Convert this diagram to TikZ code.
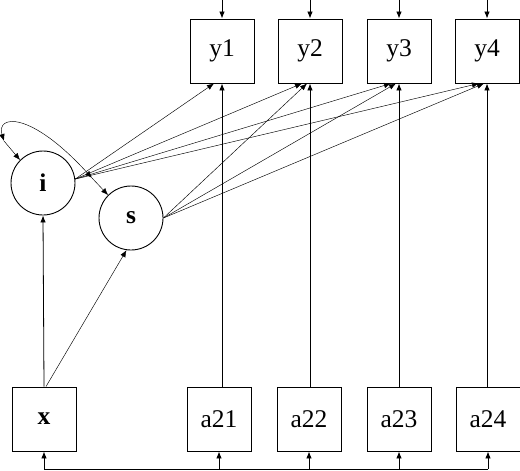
\documentclass[tikz,border=0pt]{standalone}
\usepackage{fontspec}
\setmainfont{Liberation Serif}
\usetikzlibrary{arrows.meta}
\begin{document}
\begin{tikzpicture}[x=1pt,y=-1pt,
  obs/.style={draw,line width=0.9pt,minimum size=64pt,inner sep=0pt,font=\fontsize{25.5}{26}\selectfont},
  lat/.style={draw,circle,line width=0.9pt,minimum size=64pt,inner sep=0pt,font=\fontsize{25.5}{26}\selectfont\bfseries},
  path/.style={-{Latex[length=7pt,width=5.5pt]},line width=0.8pt},
  load/.style={-{Latex[length=7pt,width=5.5pt]},line width=0.45pt}]
\useasboundingbox (0,0) rectangle (520,471);
\node[obs] (y1) at (222,51) {y1};
\node[obs] (y2) at (310,51) {y2};
\node[obs] (y3) at (399,51) {y3};
\node[obs] (y4) at (487,51) {y4};
\node[lat] (i) at (43,183) {i};
\node[lat] (s) at (131,218) {s};
\node[obs,font=\fontsize{25.5}{26}\selectfont\bfseries] (x) at (44,419) {x};
\node[obs] (a21) at (219,419) {a21};
\node[obs] (a22) at (309,419) {a22};
\node[obs] (a23) at (399,419) {a23};
\node[obs] (a24) at (488,419) {a24};
\coordinate (top) at (0,0);
\coordinate (bot) at (0,469);
\coordinate (c1) at (4,141);
\coordinate (c2) at (92,178);
\foreach \n in {y1,y2,y3,y4}
  \draw[path] (\n.north |- top) -- (\n.north);
\draw[path] (a21.north -| y1.south) -- (y1.south);
\draw[path] (a22.north -| y2.south) -- (y2.south);
\draw[path] (a23.north -| y3.south) -- (y3.south);
\draw[path] (a24.north -| y4.south) -- (y4.south);
\foreach \n in {y1,y2,y3,y4}
  \draw[load] (i.7) -- ([xshift=-8pt]\n.south);
\foreach \n in {y2,y3,y4}
  \draw[load] (s.east) -- ([xshift=-3pt]\n.south);
\draw[path] (x.north) -- (i.south);
\draw[load] ([xshift=2pt]x.north) -- (s.262);
\draw[load,<->,>={Latex[length=7pt,width=5.5pt]}] (c1) .. controls (-4,115) and (30,110) .. (c2);
\draw[load] (c1) -- (i.135);
\draw[load] (c2) -- (s.135);
\draw[line width=0.8pt] (x.south |- bot) -- (a24.south |- bot);
\foreach \n in {x,a21,a22,a23,a24}
  \draw[path] (\n.south |- bot) -- (\n.south);
\end{tikzpicture}
\end{document}
